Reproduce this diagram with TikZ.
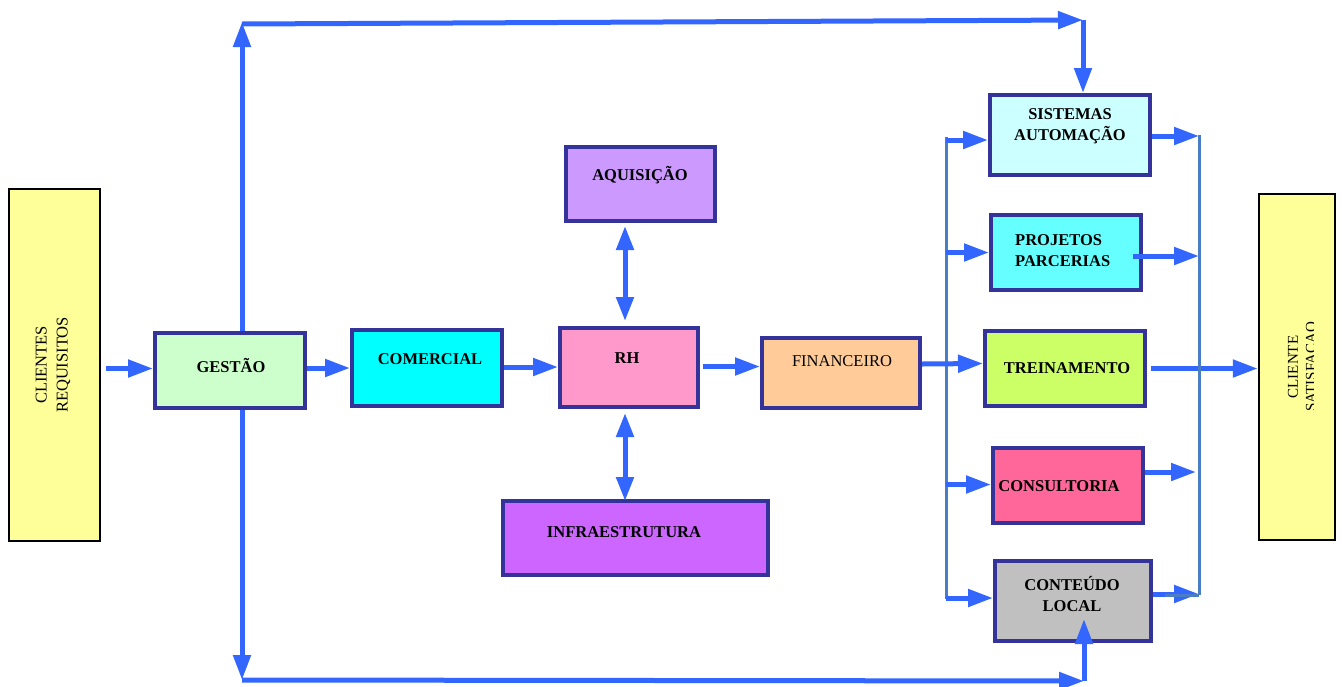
\documentclass[tikz,border=0pt]{standalone}
\usepackage{fontspec}
\setmainfont{Liberation Serif}
\usetikzlibrary{arrows.meta,calc}
\definecolor{arrblue}{HTML}{3366FF}
\definecolor{busblue}{HTML}{4A7EC4}
\definecolor{boxborder}{HTML}{333399}
\begin{document}
\begin{tikzpicture}[x=1pt,y=-1pt,
  box/.style={draw=boxborder, line width=4pt, rectangle, inner sep=0pt},
  sidebox/.style={draw=black, line width=2.5pt, rectangle, inner sep=0pt, fill=sideyellow},
  lbl/.style={font=\fontsize{16.5}{21}\selectfont\bfseries, align=center, inner sep=0pt},
  rlbl/.style={font=\fontsize{16.5}{21}\selectfont, align=center, inner sep=0pt},
  arr/.style={draw=arrblue, line width=5pt, -{Triangle[length=25pt,width=17pt]}},
  darr/.style={draw=arrblue, line width=5pt, {Triangle[length=24pt,width=17pt]}-{Triangle[length=24pt,width=17pt]}},
  bus/.style={draw=busblue, line width=3pt}]
\definecolor{sideyellow}{HTML}{FFFF99}
\useasboundingbox (0,0) rectangle (1342,686);

% side boxes
\node[sidebox, minimum width=91pt, minimum height=352pt] (clientesReq) at (54.5,365) {};
\node[rlbl, rotate=90] (clientesReqL) at (53,365) {CLIENTES\\REQUISITOS};
\node[sidebox, minimum width=76pt, minimum height=346pt] (clienteSat) at (1297,367) {};
\begin{scope}
  \clip (1258,190) rectangle (1313.5,545);
  \node[rlbl, font=\fontsize{15}{18}\selectfont, rotate=90] (clienteSatL) at (1302,367) {CLIENTE\\SATISFACAO};
\end{scope}

% boxes
\node[box, fill={rgb,255:red,204;green,255;blue,204}, minimum width=150pt, minimum height=75pt] (gestao) at (230,370.5) {};
\node[box, fill={rgb,255:red,0;green,255;blue,255}, minimum width=150pt, minimum height=76pt] (comercial) at (427,368) {};
\node[box, fill={rgb,255:red,255;green,153;blue,204}, minimum width=138pt, minimum height=79pt] (rh) at (629,367.5) {};
\node[box, fill={rgb,255:red,204;green,153;blue,255}, minimum width=149pt, minimum height=74pt] (aquis) at (640.5,184) {};
\node[box, fill={rgb,255:red,204;green,102;blue,255}, minimum width=265pt, minimum height=74pt] (infra) at (635.5,538) {};
\node[box, fill={rgb,255:red,255;green,204;blue,153}, minimum width=158pt, minimum height=70pt] (financ) at (841,373) {};
\node[box, fill={rgb,255:red,204;green,255;blue,255}, minimum width=160pt, minimum height=80pt] (sist) at (1070,135) {};
\node[box, fill={rgb,255:red,102;green,255;blue,255}, minimum width=150pt, minimum height=75pt] (proj) at (1066,252.5) {};
\node[box, fill={rgb,255:red,204;green,255;blue,102}, minimum width=160pt, minimum height=75pt] (trein) at (1065,368.5) {};
\node[box, fill={rgb,255:red,255;green,102;blue,153}, minimum width=150pt, minimum height=75pt] (consult) at (1068,485.5) {};
\node[box, fill={rgb,255:red,192;green,192;blue,192}, minimum width=156pt, minimum height=80pt] (conteudo) at (1073,601) {};

% loop corners and buses
\coordinate (tl) at (242,22);
\coordinate (tr) at (1083,20);
\coordinate (bl) at (242,680);
\coordinate (br) at (1084,681);
\coordinate (busLt) at (946,137);
\coordinate (busLb) at (946,597);
\coordinate (busRt) at (1199,135);
\coordinate (busRb) at (1199,595);

% arrow crossing the right bus
\draw[arr] ($(trein.east)+(4,0)$) -- (trein.east -| clienteSat.west);

\draw[bus] (busRt) -- (busRb);
\draw[bus] (busLt) -- (busLb) -- ++(12,0);

% main chain
\draw[arr] ($(gestao.west -| clientesReq.east)+(5,-2)$) -- ($(gestao.west)+(0,-2)$);
\draw[arr] (gestao.east |- comercial.west) -- (comercial.west);
\draw[arr] ($(comercial.east)+(0,-1)$) -- ($(rh.west |- comercial.east)+(0,-1)$);
\draw[arr] ($(rh.east)+(3,-1)$) -- ($(financ.west |- rh.east)+(0,-1)$);
\draw[arr] ($(financ.east)+(0,-9)$) -- ($(trein.west)+(0,-5)$);

% RH links
\draw[darr] ($(aquis.south -| rh.north)+(-4,3)$) -- ($(rh.north)+(-4,-5)$);
\draw[darr] ($(rh.south)+(-4,4)$) -- ($(infra.north -| rh.south)+(-4,2)$);

% top loop
\draw[arr] (gestao.north -| tl) -- (tl);
\draw[arr] ($(tl)+(0,2)$) -- (tr);
\draw[arr] (tr) -- (sist.north -| tr);

% bottom loop
\draw[arr] (gestao.south -| bl) -- (bl);
\draw[arr] (bl) -- (br);
\draw[arr] (br) -- ($(conteudo.south -| br)+(0,-24)$);

% left bus to boxes
\draw[arr] ($(busLt |- sist.west)+(0,5)$) -- ($(sist.west)+(0,5)$);
\draw[arr] (busLt |- proj.west) -- (proj.west);
\draw[arr] ($(busLt |- consult.west)+(0,-1)$) -- ($(consult.west)+(0,-1)$);
\draw[arr] ($(busLt |- conteudo.west)+(0,-3)$) -- ($(conteudo.west)+(0,-3)$);

% boxes to right bus
\draw[arr] ($(sist.east)+(0,1)$) -- ($(busRt |- sist.east)+(0,1)$);
\draw[arr] ($(proj.east)+(-10,3.5)$) -- ($(busRt |- proj.east)+(0,3.5)$);
\draw[arr] ($(consult.east)+(0,-13.5)$) -- ($(busRt |- consult.east)+(-3,-13.5)$);
\draw[arr] ($(conteudo.east)+(0,-7)$) -- ($(busRt |- conteudo.east)+(0,-7)$);
\draw[bus] (busRb) -- ++(-34,0);

% labels
\node[lbl] (gestaoL) at (231,365) {GESTÃO};
\node[lbl] (comercialL) at (430,359) {COMERCIAL};
\node[lbl] (rhL) at (627,358) {RH};
\node[lbl] (aquisL) at (640,175) {AQUISIÇÃO};
\node[lbl] (infraL) at (624,532) {INFRAESTRUTURA};
\node[rlbl] (financL) at (842,361) {FINANCEIRO};
\node[lbl] (sistL) at (1070,126) {SISTEMAS\\AUTOMAÇÃO};
\node[lbl, align=left, anchor=west] (projL) at (1015,251) {PROJETOS\\PARCERIAS};
\node[lbl] (treinL) at (1067,368) {TREINAMENTO};
\node[lbl] (consultL) at (1059,486) {CONSULTORIA};
\node[lbl] (conteudoL) at (1072,594) {CONTEÚDO\\LOCAL};
\end{tikzpicture}
\end{document}
